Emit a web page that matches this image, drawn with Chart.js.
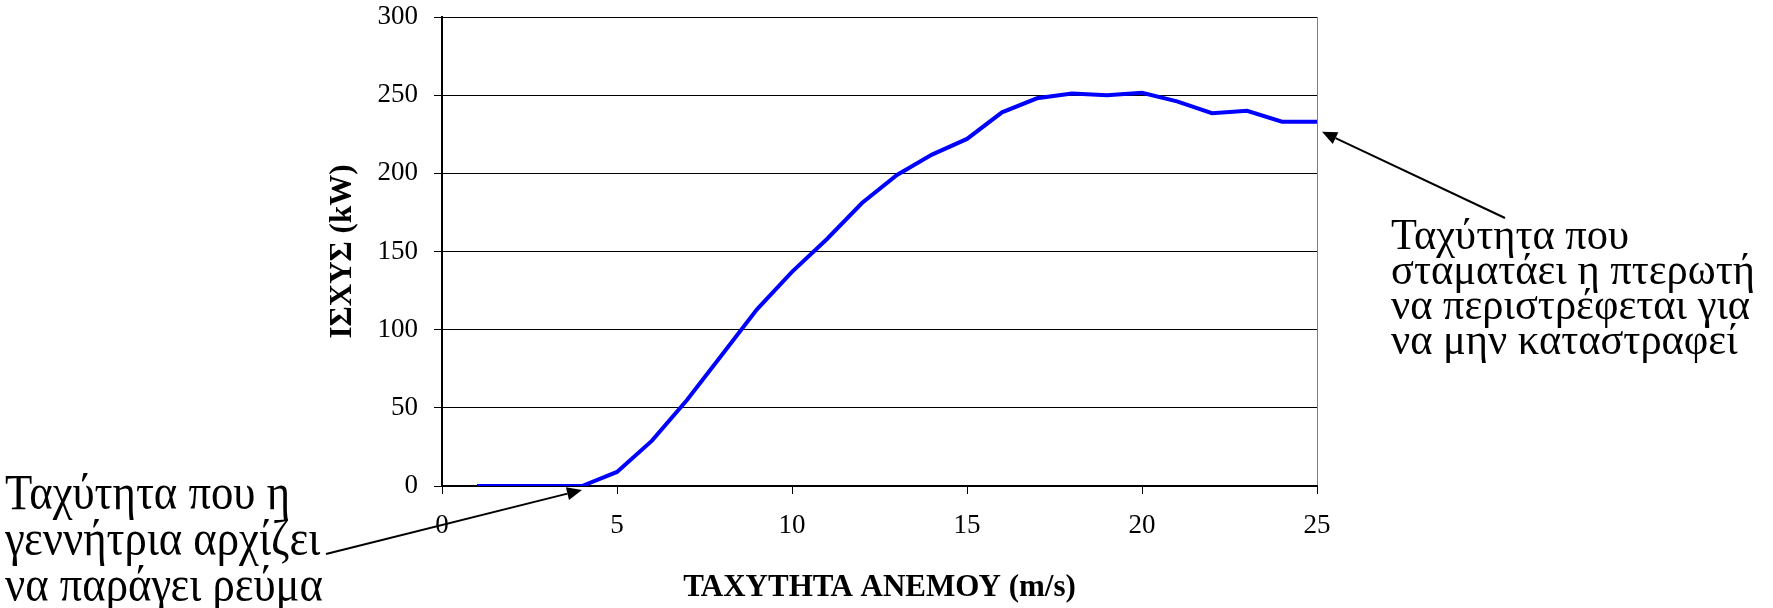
<!DOCTYPE html>
<html>
<head>
<meta charset="utf-8">
<script src="https://cdn.jsdelivr.net/npm/chart.js@4.4.1/dist/chart.umd.min.js"></script>
<style>
  html, body { margin: 0; padding: 0; background: #fff; }
</style>
</head>
<body>
<canvas id="powerChart" width="1773" height="608"></canvas>
<script>
// wind speed (m/s) and power output (kW)
const windSpeed = [1, 2, 3, 4, 5, 6, 7, 8, 9, 10, 11, 12, 13, 14, 15, 16, 17, 18, 19, 20, 21, 22, 23, 24, 25];
const power = [0, 0, 0, 0, 9, 29, 55, 84, 113, 137, 158, 181, 199, 212, 222, 239, 248, 251, 250, 251.5, 246, 238.5, 240, 233, 233];

const xTicks = [0, 5, 10, 15, 20, 25];
const yTicks = [0, 50, 100, 150, 200, 250, 300];

const xTitle = 'ΤΑΧΥΤΗΤΑ ΑΝΕΜΟΥ (m/s)';
const yTitle = 'ΙΣΧΥΣ (kW)';

const noteStart = ['Ταχύτητα που η', 'γεννήτρια αρχίζει', 'να παράγει ρεύμα'];
const noteStop = ['Ταχύτητα που', 'σταματάει η πτερωτή', 'να περιστρέφεται για', 'να μην καταστραφεί'];

const serif = '"Liberation Serif", "Times New Roman", serif';

// text block squeezed sideways so one reference line hits the wanted width
function drawBlock(ctx, lines, left, firstBaseline, spacing, size, refIndex, refWidth) {
  ctx.font = size + 'px ' + serif;
  ctx.textAlign = 'left';
  ctx.textBaseline = 'alphabetic';
  const sx = refWidth / ctx.measureText(lines[refIndex]).width;
  lines.forEach((line, i) => {
    ctx.save();
    ctx.translate(left, firstBaseline + i * spacing);
    ctx.scale(sx, 1);
    ctx.fillText(line, 0, 0);
    ctx.restore();
  });
}

function drawArrow(ctx, x0, y0, x1, y1) {
  const ang = Math.atan2(y1 - y0, x1 - x0);
  const len = 15, half = 6.5;
  const bx = x1 - len * Math.cos(ang), by = y1 - len * Math.sin(ang);
  ctx.beginPath();
  ctx.moveTo(x0, y0);
  ctx.lineTo(bx, by);
  ctx.lineWidth = 2;
  ctx.strokeStyle = '#000';
  ctx.stroke();
  ctx.beginPath();
  ctx.moveTo(x1, y1);
  ctx.lineTo(bx + half * Math.sin(ang), by - half * Math.cos(ang));
  ctx.lineTo(bx - half * Math.sin(ang), by + half * Math.cos(ang));
  ctx.closePath();
  ctx.fillStyle = '#000';
  ctx.fill();
}

const notes = {
  id: 'notes',
  afterDraw(chart) {
    const { ctx, scales: { x, y } } = chart;
    ctx.save();
    ctx.fillStyle = '#000';
    drawBlock(ctx, noteStart, 5, 509, 46, 51, 0, 285);
    drawBlock(ctx, noteStop, 1391, 248.5, 35, 44, 1, 364);
    // cut-in point (4 m/s) and cut-out point (25 m/s)
    drawArrow(ctx, 326, 554, x.getPixelForValue(windSpeed[3]), y.getPixelForValue(power[3]) + 4);
    drawArrow(ctx, 1505, 218, x.getPixelForValue(windSpeed[24]) + 5, y.getPixelForValue(power[24]) + 10);
    ctx.restore();
  }
};

const ctx = document.getElementById('powerChart').getContext('2d');

const powerChart = new Chart(ctx, {
  type: 'line',
  data: {
    datasets: [{
      label: 'Ισχύς',
      data: windSpeed.map((v, i) => ({ x: v, y: power[i] })),
      borderColor: '#0000ff',
      borderWidth: 4,
      pointRadius: 0,
      tension: 0,
      fill: false
    }]
  },
  options: {
    responsive: false,
    animation: false,
    layout: {
      padding: { left: 320, right: 456, top: 17, bottom: 0 }
    },
    plugins: {
      legend: { display: false },
      tooltip: { enabled: false }
    },
    scales: {
      x: {
        type: 'linear',
        min: 0,
        max: 25,
        afterBuildTicks: s => { s.ticks = xTicks.map(v => ({ value: v })); },
        afterFit: s => { s.height = 122; },
        ticks: {
          color: '#000',
          font: { family: serif, size: 27 },
          padding: 16,
          maxRotation: 0
        },
        grid: {
          color: c => (c.tick && c.tick.value === 25 ? '#808080' : 'rgba(0,0,0,0)'),
          tickColor: '#000',
          tickLength: 8,
          lineWidth: 1
        },
        border: { display: true, color: '#000', width: 2 },
        title: {
          display: true,
          text: xTitle,
          color: '#000',
          font: { family: serif, size: 31, weight: 'bold' },
          padding: { top: 0, bottom: 1 }
        }
      },
      y: {
        type: 'linear',
        min: 0,
        max: 300,
        afterBuildTicks: s => { s.ticks = yTicks.map(v => ({ value: v })); },
        afterFit: s => { s.width = 122; s.paddingTop = 0; s.paddingBottom = 0; },
        ticks: {
          color: '#000',
          font: { family: serif, size: 27 },
          padding: 16
        },
        grid: {
          color: '#000',
          tickColor: '#000',
          tickLength: 8,
          lineWidth: 1
        },
        border: { display: true, color: '#000', width: 2 },
        title: {
          display: true,
          text: yTitle,
          color: '#000',
          font: { family: serif, size: 31, weight: 'bold' },
          padding: { top: 4, bottom: 0 }
        }
      }
    }
  },
  plugins: [notes]
});
</script>
</body>
</html>
